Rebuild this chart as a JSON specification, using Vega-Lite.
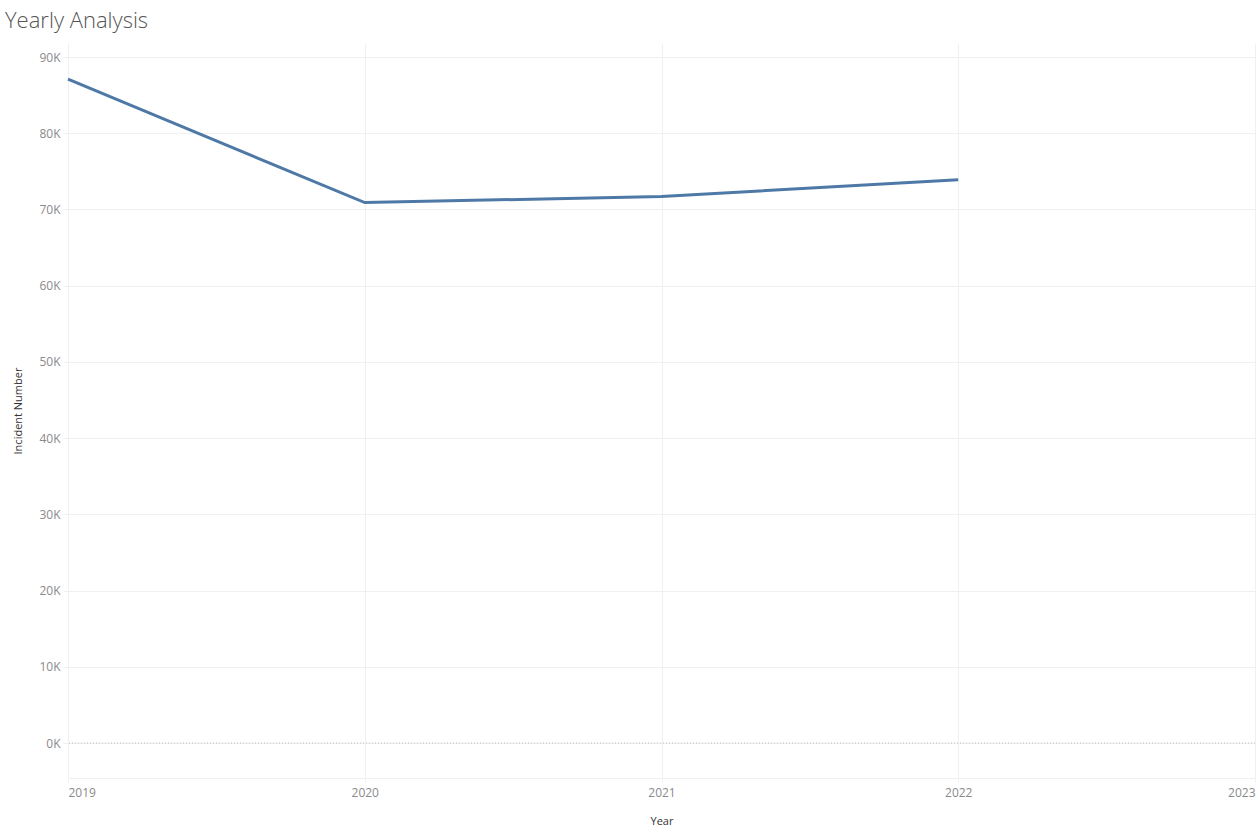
{
  "$schema": "https://vega.github.io/schema/vega-lite/v6.json",
  "autosize": "none",
  "width": 1187,
  "height": 735,
  "padding": {"left": 68, "top": 43, "right": 1, "bottom": 57},
  "background": "white",
  "title": {
    "text": "Yearly Analysis",
    "anchor": "start",
    "frame": "group",
    "dx": -63,
    "offset": 10,
    "font": "Open Sans",
    "fontWeight": 300,
    "fontSize": 22,
    "color": "#555555"
  },
  "config": {
    "view": {"stroke": null},
    "axis": {
      "labelFont": "Open Sans",
      "titleFont": "Open Sans",
      "labelColor": "#8a8a8a",
      "labelFontSize": 12,
      "titleColor": "#333333",
      "titleFontSize": 11,
      "titleFontWeight": "normal",
      "gridColor": "#f0f0f0",
      "tickColor": "#f0f0f0",
      "domainColor": "#f0f0f0"
    }
  },
  "data": {
    "values": [
      {"Year": 2019, "Incidents": 87100},
      {"Year": 2020, "Incidents": 70900},
      {"Year": 2021, "Incidents": 71700},
      {"Year": 2022, "Incidents": 73900}
    ]
  },
  "layer": [
    {
      "data": {"values": [{"zero": 0}]},
      "mark": {"type": "rule", "color": "#bbbbbb", "strokeDash": [1, 2], "strokeWidth": 1},
      "encoding": {"y": {"field": "zero", "type": "quantitative", "scale": {"domain": [-4590, 91840], "nice": false}}}
    },
    {
      "mark": {"type": "line", "color": "#4e79a7", "strokeWidth": 3},
      "encoding": {
        "x": {
          "field": "Year",
          "type": "quantitative",
          "scale": {"domain": [2019, 2023], "nice": false, "zero": false},
          "axis": {
            "title": "Year",
            "format": "d",
            "values": [2019, 2020, 2021, 2022, 2023],
            "labelFlush": true,
            "tickSize": 4,
            "labelPadding": 5,
            "titlePadding": 17
          }
        },
        "y": {
          "field": "Incidents",
          "type": "quantitative",
          "scale": {"domain": [-4590, 91840], "nice": false, "zero": false},
          "axis": {
            "title": "Incident Number",
            "values": [0, 10000, 20000, 30000, 40000, 50000, 60000, 70000, 80000, 90000],
            "labelExpr": "format(datum.value / 1000, 'd') + 'K'",
            "tickSize": 5,
            "labelPadding": 3,
            "titlePadding": 15,
            "domain": true
          }
        }
      }
    }
  ]
}
